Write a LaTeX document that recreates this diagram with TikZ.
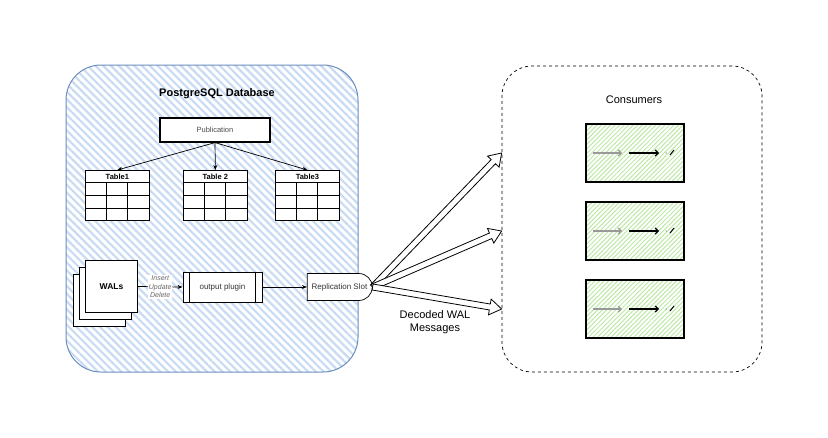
\documentclass[tikz,border=0pt]{standalone}
\usepackage{fontspec}
\setmainfont{Liberation Sans}
\usetikzlibrary{arrows.meta,patterns.meta,calc,shapes.misc}

\definecolor{dbline}{HTML}{6C8EBF}
\definecolor{dbhatch}{HTML}{C9DBF4}
\definecolor{okhatch}{HTML}{BDE8A6}

\tikzset{
  dbbox/.style={draw=dbline, line width=1pt, rounded corners=35pt,
    pattern={Lines[angle=-45,distance=5.5pt,line width=2.2pt]}, pattern color=dbhatch},
  consbox/.style={draw, dashed, line width=0.7pt, rounded corners=30pt},
  pubbox/.style={draw, fill=white, line width=1.2pt, minimum width=110pt,
    minimum height=24pt, text=black!70, font=\fontsize{7.5}{9}\selectfont},
  tabhead/.style={draw, fill=white, line width=0.7pt, minimum width=64pt,
    minimum height=12pt, inner sep=0pt, font=\fontsize{7.5}{9}\selectfont\bfseries},
  sheet/.style={draw, fill=white, line width=0.8pt, minimum size=52pt},
  procbox/.style={draw, fill=white, line width=1pt, minimum width=79pt,
    minimum height=30pt, text=black!80, font=\fontsize{8}{9}\selectfont},
  slotbox/.style={draw, fill=white, line width=0.7pt, rounded rectangle,
    rounded rectangle left arc=none, minimum width=67pt, minimum height=27pt,
    inner sep=1pt, text=black!80, font=\fontsize{8}{9}\selectfont},
  consumer/.style={draw, line width=1.5pt, minimum width=98pt, minimum height=58pt,
    pattern={Lines[angle=45,distance=3.2pt,line width=1pt]}, pattern color=okhatch},
  link/.style={-{Stealth[length=5pt,width=4pt]}, line width=0.7pt},
  fat/.style={draw, fill=white, line width=0.8pt, line join=miter}
}

% hollow block arrow from #1 to #2
\newcommand\fatarrow[2]{%
  \path let \p1=(#1), \p2=(#2),
    \n1={atan2(\y2-\y1,\x2-\x1)}, \n2={veclen(\x2-\x1,\y2-\y1)} in
    \pgfextra{\pgfmathsetmacro\fatlen{\n2}\pgfmathsetmacro\fatang{\n1}%
      \global\let\fatlen\fatlen\global\let\fatang\fatang};
  \draw[fat, shift={(#1)}, rotate=\fatang]
    (0,-3) -- ({\fatlen-12},-3) -- ({\fatlen-12},-8) -- (\fatlen,0)
    -- ({\fatlen-12},8) -- ({\fatlen-12},3) -- (0,3) -- cycle;
}

\begin{document}
\begin{tikzpicture}[x=1pt,y=-1pt]
\useasboundingbox (0,0) rectangle (828,437);

% database side
\node[dbbox, minimum width=292pt, minimum height=307pt] (db) at (212,218.5) {};
\node[font=\fontsize{11}{13}\selectfont\bfseries] (dbtitle) at (217,94) {PostgreSQL Database};
\node[pubbox] (pub) at (215,130) {Publication};

\foreach \name/\x/\label in {t1/85/Table1, t2/183/Table 2, t3/275/Table3} {
  \node[tabhead, anchor=north west] (\name) at (\x,170) {\label};
  \draw[line width=0.7pt, fill=white] (\x,182) rectangle (\x+64,220);
  \draw[line width=0.6pt] (\x+21.3,182) -- (\x+21.3,220) (\x+42.7,182) -- (\x+42.7,220)
    (\x,195) -- (\x+64,195) (\x,208) -- (\x+64,208);
}
\draw[link] (pub.south) -- (t1.north);
\draw[link] (pub.south) -- (t2.north);
\draw[link] (pub.south) -- (t3.north);

\node[sheet] (wal3) at (99,300) {};
\node[sheet] (wal2) at (105,293) {};
\node[sheet, font=\fontsize{8.5}{10}\selectfont\bfseries] (wal) at (111.5,286.5) {WALs};

\node[procbox] (plugin) at (222.5,287) {output plugin};
\draw[line width=0.7pt] ($(plugin.north west)+(7,0)$) -- ($(plugin.south west)+(7,0)$);
\draw[line width=0.7pt] ($(plugin.north east)+(-7,0)$) -- ($(plugin.south east)+(-7,0)$);

\node[slotbox] (slot) at (339.5,287) {Replication Slot};

\draw[link] (wal.east) -- node[fill=white, inner sep=1pt, align=center, text=black!60,
  font=\fontsize{7}{8.5}\selectfont\itshape] (ops) {Insert\\Update\\Delete} (plugin.west);
\draw[link] (plugin.east) -- (slot.west);

% consumers side
\node[consbox, minimum width=260pt, minimum height=306pt] (cons) at (632,219) {};
\node[font=\fontsize{11}{13}\selectfont] (constitle) at (634,100) {Consumers};
\foreach \y [count=\i] in {153,231,309} {
  \node[consumer] (c\i) at (635,\y) {};
  \draw[gray!80, line width=1.2pt, -{Straight Barb[length=3pt]}] (593,\y) -- (622,\y);
  \draw[line width=1.2pt, -{Straight Barb[length=3pt]}] (629,\y) -- (659,\y);
  \fill (666,\y) circle (0.5);
  \draw[line width=1pt] (670,\y+2) -- (674,\y-3);
}

\fatarrow{slot.east}{cons.west |- c1}
\fatarrow{slot.east}{cons.west |- c2}
\fatarrow{slot.east}{cons.west |- c3}
\node[font=\fontsize{11}{13}\selectfont, align=center] (decoded) at (435,322) {Decoded WAL\\Messages};
\end{tikzpicture}
\end{document}
